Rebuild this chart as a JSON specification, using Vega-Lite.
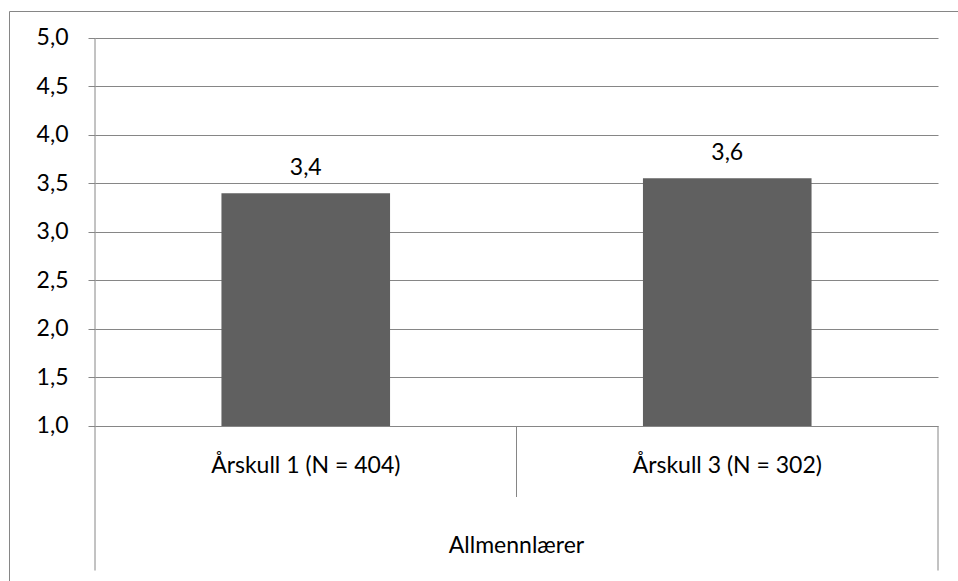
{
  "$schema": "https://vega.github.io/schema/vega-lite/v6.json",
  "width": 952,
  "height": 573,
  "autosize": {"type": "none"},
  "padding": {"left": 9, "top": 11, "right": -3, "bottom": -3},
  "background": "white",
  "config": {
    "view": {"stroke": "#868686", "strokeWidth": 1},
    "font": "Lato",
    "locale": {"number": {"decimal": ",", "thousands": " ", "grouping": [3], "currency": ["", " kr"]}}
  },
  "data": {
    "values": [
      {"kull": "Årskull 1 (N = 404)", "snitt": 3.4, "gruppe": "Allmennlærer"},
      {"kull": "Årskull 3 (N = 302)", "snitt": 3.555, "gruppe": "Allmennlærer"}
    ]
  },
  "layer": [
    {
      "mark": {"type": "bar", "width": {"band": 0.4}, "color": "#606060"},
      "encoding": {
        "x": {
          "field": "kull",
          "type": "nominal",
          "sort": null,
          "scale": {"range": [86, 929], "paddingInner": 0, "paddingOuter": 0},
          "axis": null
        },
        "y": {
          "field": "snitt",
          "type": "quantitative",
          "scale": {"domain": [-0.62887, 5.27835], "nice": false, "zero": false},
          "axis": {
            "values": [1, 1.5, 2, 2.5, 3, 3.5, 4, 4.5, 5],
            "format": ".1f",
            "offset": -86,
            "domain": false,
            "grid": true,
            "gridColor": "#868686",
            "gridOpacity": 1,
            "tickColor": "#868686",
            "tickSize": 7,
            "labelFontSize": 23,
            "labelFont": "Lato",
            "labelColor": "#000000",
            "labelPadding": 20,
            "title": null
          }
        },
        "y2": {"datum": 1}
      }
    },
    {
      "mark": {"type": "text", "baseline": "alphabetic", "dy": -18, "fontSize": 23, "color": "#000000"},
      "encoding": {
        "x": {"field": "kull", "type": "nominal", "sort": null},
        "y": {"field": "snitt", "type": "quantitative"},
        "text": {"field": "snitt", "type": "quantitative", "format": ".1f"}
      }
    },
    {
      "mark": {"type": "text", "baseline": "alphabetic", "fontSize": 23, "color": "#000000"},
      "encoding": {
        "x": {"field": "kull", "type": "nominal", "sort": null},
        "y": {"datum": 0.515},
        "text": {"field": "kull", "type": "nominal"}
      }
    },
    {
      "transform": [{"aggregate": [{"op": "count", "as": "n"}], "groupby": ["gruppe"]}],
      "mark": {"type": "text", "baseline": "alphabetic", "fontSize": 23, "color": "#000000"},
      "encoding": {
        "x": {"datum": "Årskull 3 (N = 302)", "bandPosition": 0},
        "y": {"datum": -0.309},
        "text": {"field": "gruppe", "type": "nominal"}
      }
    },
    {
      "data": {"values": [{}]},
      "mark": {"type": "rule", "color": "#868686", "strokeWidth": 1},
      "encoding": {
        "x": {"datum": "Årskull 1 (N = 404)", "bandPosition": 0},
        "y": {"datum": 5},
        "y2": {"datum": -0.49}
      }
    },
    {
      "data": {"values": [{}]},
      "mark": {"type": "rule", "color": "#868686", "strokeWidth": 1},
      "encoding": {
        "x": {"datum": "Årskull 1 (N = 404)", "bandPosition": 1},
        "y": {"datum": 1},
        "y2": {"datum": 0.268}
      }
    },
    {
      "data": {"values": [{}]},
      "mark": {"type": "rule", "color": "#868686", "strokeWidth": 1},
      "encoding": {
        "x": {"datum": "Årskull 3 (N = 302)", "bandPosition": 1},
        "y": {"datum": 1},
        "y2": {"datum": -0.49}
      }
    }
  ]
}
